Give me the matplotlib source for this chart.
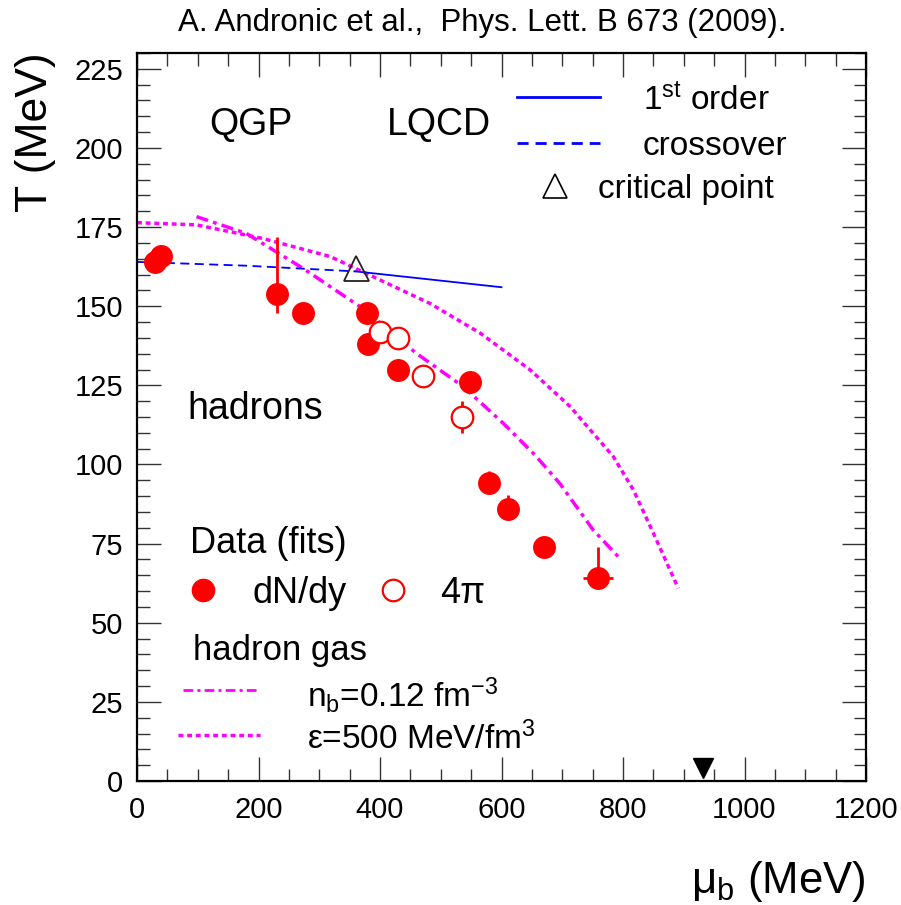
import matplotlib
matplotlib.use("Agg")
import matplotlib.pyplot as plt
from matplotlib.lines import Line2D

plt.rcParams['font.family'] = ['Liberation Sans', 'DejaVu Sans']
plt.rcParams['mathtext.fontset'] = 'custom'
plt.rcParams['mathtext.rm'] = 'Liberation Sans'
plt.rcParams['mathtext.it'] = 'Liberation Sans:italic'
plt.rcParams['mathtext.default'] = 'regular'

# ---- data ----
# dN/dy fits (filled)
dndy_mu = [30, 40, 230, 273, 379, 380, 429, 548, 579, 610, 670, 759]
dndy_T = [164, 166, 154, 148, 148, 138, 130, 126, 94, 86, 74, 64]
dndy_Terr_lo = [0, 0, 6, 0, 0, 0, 0, 0, 0, 0, 0, 0]
dndy_Terr_hi = [0, 0, 18, 0, 0, 0, 0, 0, 4, 4.5, 0, 10]
dndy_muerr = [0, 0, 0, 0, 0, 0, 0, 0, 0, 0, 0, 25]

# 4pi fits (open)
fourpi_mu = [400, 430, 470, 535]
fourpi_T = [142, 140, 128, 115]
fourpi_Terr = [0, 0, 0, 5]

# LQCD lines
cross_mu = [0, 180, 360]
cross_T = [164, 162.8, 161]
first_mu = [360, 600]
first_T = [161, 156]
cp_mu = [360]
cp_T = [162]

# hadron gas curves
nb_mu = [98, 180, 273, 367, 460, 537, 603, 655, 696, 751, 792]
nb_T = [178.3, 173, 162, 149.9, 135.1, 124.6, 113, 103, 94, 79.3, 70.9]
eps_mu = [0, 98, 207, 318, 482, 565, 647, 713, 784, 817, 850, 891]
eps_T = [176.4, 175.7, 171.4, 165.7, 150.9, 141.5, 129.9, 118.3, 102.5, 92, 78.3, 60.9]

# marker on axis
arrow_mu = [932]
arrow_T = [4]

xticks = [0, 200, 400, 600, 800, 1000, 1200]
yticks = [0, 25, 50, 75, 100, 125, 150, 175, 200, 225]

W, H = 901, 905
fig = plt.figure(figsize=(W / 100, H / 100), dpi=100)
ax = fig.add_axes([137 / W, 1 - 781 / H, (866 - 137) / W, (781 - 53) / H])
ax.set_xlim(0, 1200)
ax.set_ylim(0, 230)

red = '#ff0000'
mag = '#ff00ff'
blue = '#0000ff'

ls_dot = (0, (1.4, 1.1))
ls_dashdot = (0, (3.5, 1.5, 1.1, 1.5))
ls_dash = (0, (5, 3))

ax.plot(eps_mu, eps_T, color=mag, lw=2.5, ls=ls_dot, zorder=2)
ax.plot(nb_mu, nb_T, color=mag, lw=2.5, ls=ls_dashdot, zorder=2)
ax.plot(cross_mu, cross_T, color=blue, lw=1.3, ls=ls_dash, zorder=2)
ax.plot(first_mu, first_T, color=blue, lw=1.3, zorder=2)
ax.plot(cp_mu, cp_T, marker='^', ms=18, mfc='none', mec='#222222', mew=1.3, ls='none', zorder=5)

ax.errorbar(dndy_mu, dndy_T, yerr=[dndy_Terr_lo, dndy_Terr_hi], xerr=dndy_muerr,
            fmt='o', ms=15.5, color=red, mfc=red, mec=red, elinewidth=2,
            capsize=0, zorder=3)
ax.errorbar(fourpi_mu, fourpi_T, yerr=fourpi_Terr, fmt='o', ms=15.5, color=red,
            mfc='white', mec=red, mew=1.6, elinewidth=2, capsize=0, zorder=4)

ax.plot(arrow_mu, arrow_T, marker='v', ms=14, color='black', ls='none', zorder=5)

# axes styling
ax.set_xticks(xticks)
ax.set_yticks(yticks)
ax.set_xticks(range(0, 1201, 50), minor=True)
ax.set_yticks(range(0, 231, 5), minor=True)
ax.tick_params(which='both', direction='in', top=True, right=True, color='#333333', width=1)
ax.tick_params(which='major', length=17, labelsize=21, pad=10)
ax.tick_params(which='minor', length=9)
ax.tick_params(axis='x', which='major', pad=11)
for s in ax.spines.values():
    s.set_linewidth(1.6)

# texts
fig.text(482 / W, 1 - 23 / H, 'A. Andronic et al.,  Phys. Lett. B 673 (2009).',
         ha='center', va='center', fontsize=22.5)
fig.text(865 / W, 1 - 881 / H, '\u03bc$_{b}$ (MeV)', ha='right', va='center', fontsize=31.5)
fig.text(35 / W, 1 - 52 / H, 'T (MeV)', rotation=90, ha='center', va='top', fontsize=32)

T = ax.transAxes
def fx(px):
    return (px - 137) / 729
def fy(py):
    return (781 - py - 3.5) / 728

ax.text(fx(251), fy(122), 'QGP', transform=T, ha='center', va='center', fontsize=27)
ax.text(fx(439), fy(122), 'LQCD', transform=T, ha='center', va='center', fontsize=27)
ax.text(fx(187), fy(405), 'hadrons', transform=T, ha='left', va='center', fontsize=27)

# upper legend
ax.add_line(Line2D([fx(517), fx(600)], [fy(93.5), fy(93.5)], transform=T, color=blue, lw=2))
ax.text(fx(643), fy(97), '1$^{st}$ order', transform=T, ha='left', va='center', fontsize=24)
ax.add_line(Line2D([fx(517), fx(600)], [fy(139.5), fy(139.5)], transform=T, color=blue, lw=2, ls=(0, (4, 2.5))))
ax.text(fx(643), fy(143), 'crossover', transform=T, ha='left', va='center', fontsize=24)
ax.add_line(Line2D([fx(555)], [fy(182.5)], transform=T, marker='^', ms=17, mfc='none', mec='black', mew=1.2))
ax.text(fx(598), fy(186), 'critical point', transform=T, ha='left', va='center', fontsize=24)

# lower legend
ax.text(fx(190), fy(540), 'Data (fits)', transform=T, ha='left', va='center', fontsize=26)
ax.add_line(Line2D([fx(203)], [fy(586.5)], transform=T, marker='o', ms=16, color=red))
ax.text(fx(253), fy(590), 'dN/dy', transform=T, ha='left', va='center', fontsize=26)
ax.add_line(Line2D([fx(393)], [fy(586.5)], transform=T, marker='o', ms=15.5, mfc='none', mec=red, mew=1.6))
ax.text(fx(440), fy(590), '4\u03c0', transform=T, ha='left', va='center', fontsize=26)
ax.text(fx(193), fy(647), 'hadron gas', transform=T, ha='left', va='center', fontsize=25)
ax.add_line(Line2D([fx(183), fx(260)], [fy(686.5), fy(686.5)], transform=T, color=mag, lw=2, ls=ls_dashdot))
ax.text(fx(307), fy(692), 'n$_{b}$=0.12 fm$^{-3}$', transform=T, ha='left', va='center', fontsize=24)
ax.add_line(Line2D([fx(178), fx(260)], [fy(731.5), fy(731.5)], transform=T, color=mag, lw=2.5, ls=ls_dot))
ax.text(fx(307), fy(735), '\u03b5=500 MeV/fm$^{3}$', transform=T, ha='left', va='center', fontsize=24)

fig.savefig('out.png', dpi=100)
